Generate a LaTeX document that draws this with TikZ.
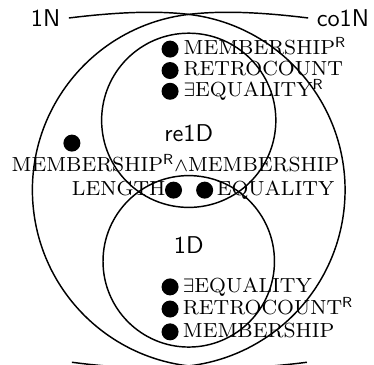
\documentclass[tikz,border=0pt]{standalone}
\usetikzlibrary{positioning}
\newcommand{\supR}{$^{\mathsf{R}}$}
\newcommand{\probfont}{\fontsize{8.4}{10}\selectfont}
\tikzset{
  blob/.style={circle, fill=black, inner sep=0pt, minimum size=7pt},
  prob/.style={font=\probfont, inner sep=0pt, anchor=mid west},
  probl/.style={font=\probfont, inner sep=0pt, anchor=mid east},
  cls/.style={font=\sffamily},
  setline/.style={line width=0.6pt},
}
\begin{document}
\begin{tikzpicture}
        \useasboundingbox (-2.73,-2.52) rectangle (2.68,2.75);
        \node[cls] (n1N) at (-2.07,2.49) {1N};
        \node[cls] (nco1N) at (2.23,2.49) {co1N};
        \node[cls] (re1D) at (0,0.83) {re1D};
        \node[cls] (n1D) at (0,-0.80) {1D};
        \coordinate (top) at (0,2.542);
        \coordinate (botL) at (-1.69,-2.49);
        \coordinate (botR) at (1.71,-2.49);
        \draw[setline] (n1N.east) .. controls (-1.0,2.58) and (-0.45,2.595) .. (top)
            arc[start angle=83.3, end angle=-83.3, radius=2.56]
            .. controls (-0.45,-2.595) and (-1.0,-2.58) .. (botL);
        \draw[setline] (nco1N.west) .. controls (1.0,2.58) and (0.45,2.595) .. (top)
            arc[start angle=96.7, end angle=263.3, radius=2.56]
            .. controls (0.45,-2.595) and (1.0,-2.58) .. (botR);
        \draw[setline] (0,1.01) circle (1.26);
        \draw[setline] (0,-1.03) circle (1.24);
        \node[blob] (t1) at (-0.27,2.04) {};
        \node[blob] (t2) at (-0.27,1.73) {};
        \node[blob] (t3) at (-0.27,1.43) {};
        \node[prob] (t1l) at (-0.08,2.04) {MEMBERSHIP\supR};
        \node[prob] (t2l) at (-0.08,1.73) {RETROCOUNT};
        \node[prob] (t3l) at (-0.08,1.43) {$\exists$EQUALITY\supR};
        \node[blob] (m0) at (-1.69,0.68) {};
        \node[font=\probfont, inner sep=0pt] (m0l) at (-0.19,0.39) {MEMBERSHIP\supR$\wedge$MEMBERSHIP};
        \node[blob] (m1) at (-0.22,0) {};
        \node[blob] (m2) at (0.23,0) {};
        \node[probl] (m1l) at (-0.33,0) {LENGTH};
        \node[prob] (m2l) at (0.40,0) {EQUALITY};
        \node[blob] (d1) at (-0.27,-1.40) {};
        \node[blob] (d2) at (-0.27,-1.72) {};
        \node[blob] (d3) at (-0.27,-2.05) {};
        \node[prob] (d1l) at (-0.09,-1.40) {$\exists$EQUALITY};
        \node[prob] (d2l) at (-0.09,-1.72) {RETROCOUNT\supR};
        \node[prob] (d3l) at (-0.09,-2.05) {MEMBERSHIP};
    \end{tikzpicture}
\end{document}
